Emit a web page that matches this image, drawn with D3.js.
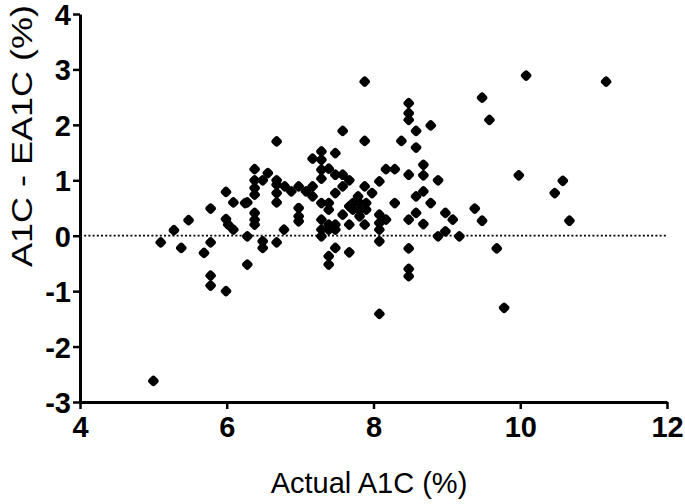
<!DOCTYPE html>
<html><head><meta charset="utf-8">
<script src="https://cdn.jsdelivr.net/npm/d3@7"></script>
<style>body{margin:0;background:#fff}svg{display:block}</style>
</head><body>
<script>
// Actual A1C (%)
const actualA1C = [5.0,5.1,5.28,5.38,5.48,5.69,5.78,5.78,5.78,5.78,5.99,6.09,5.99,6.02,6.09,5.99,6.28,6.28,6.28,6.38,6.38,6.38,6.38,6.38,6.38,6.49,6.49,6.68,6.56,6.68,6.49,6.68,6.68,6.68,6.78,6.68,6.79,6.88,6.98,6.98,6.98,6.98,7.08,7.17,7.17,7.17,7.29,7.29,7.48,7.29,7.39,7.48,7.58,7.67,7.58,7.48,7.29,7.29,7.39,7.39,7.29,7.39,7.48,7.29,7.29,7.39,7.48,7.48,7.39,7.39,7.67,7.58,7.67,7.79,7.88,7.98,7.72,7.81,7.9,7.72,7.81,7.9,7.81,7.67,7.88,7.88,7.58,7.88,8.48,8.48,8.48,8.78,8.58,8.38,8.58,8.08,8.17,8.29,8.29,8.08,8.17,8.08,8.08,8.08,8.48,8.68,8.68,8.88,8.58,8.68,8.78,8.48,8.58,8.68,8.48,8.48,8.48,8.98,9.08,8.98,8.88,9.17,10.08,11.17,9.48,9.58,9.98,10.58,10.47,10.67,9.38,9.48,9.68,9.78,8.08,6.38,6.25];
// A1C - EA1C (%)
const diffA1C = [-2.62,-0.12,0.1,-0.22,0.28,-0.31,-0.12,0.49,-0.72,-0.9,0.79,0.6,0.3,0.2,0.11,-1.0,-0.01,-0.52,0.6,1.2,1.0,0.86,0.74,0.41,0.2,-0.1,-0.22,1.7,1.13,1.0,1.0,0.92,0.77,0.6,0.11,-0.12,0.89,0.8,0.89,0.5,0.35,0.26,0.8,0.89,0.71,1.39,1.52,1.37,1.49,1.19,1.21,1.1,1.1,1.0,0.89,0.77,1.03,0.59,0.59,0.47,0.29,0.2,0.2,0.11,-0.01,0.11,0.11,-0.22,-0.37,-0.52,-0.3,0.38,0.53,0.71,0.89,0.77,0.59,0.59,0.59,0.47,0.47,0.47,0.35,0.2,0.2,2.78,1.89,1.71,2.39,2.21,2.09,1.99,1.89,1.71,1.59,0.98,1.2,1.2,0.59,0.38,0.29,0.23,0.11,-0.1,1.1,1.28,1.09,1.0,0.71,0.8,0.59,0.29,0.41,0.21,-0.23,-0.6,-0.73,0.41,0.29,0.08,-0.01,-0.01,2.89,2.78,2.49,2.09,1.09,0.99,0.77,0.27,0.49,0.27,-0.23,-1.3,-1.41,0.29,0.59];
const xTicks = [4,6,8,10,12];
const yTicks = [-3,-2,-1,0,1,2,3,4];
const xTitle = "Actual A1C (%)";
const yTitle = "A1C - EA1C (%)";

const W = 685, H = 504;
const svg = d3.select("body").append("svg").attr("width", W).attr("height", H);
const x = d3.scaleLinear().domain([4,12]).range([80,667]);
const y = d3.scaleLinear().domain([-3,4]).range([402,14]);
const font = "'Liberation Sans', Arial, sans-serif";

// zero reference line
svg.append("line").attr("x1", x(4)).attr("x2", x(12)).attr("y1", y(0)).attr("y2", y(0))
  .attr("stroke", "#000").attr("stroke-width", 1.8).attr("stroke-dasharray", "2,2.2");

// points
svg.append("g").selectAll("rect").data(actualA1C.map((v,i)=>[v, diffA1C[i]])).join("rect")
  .attr("width", 9).attr("height", 9).attr("rx", 2.8).attr("ry", 2.8)
  .attr("x", -4.5).attr("y", -4.5)
  .attr("transform", d => `translate(${x(d[0])},${y(d[1])}) rotate(45)`)
  .attr("fill", "#000");

// axes
const xAxis = svg.append("g").attr("transform", `translate(0,${y(-3)})`)
  .call(d3.axisBottom(x).tickValues(xTicks).tickFormat(d => String(d)).tickSize(7).tickSizeOuter(0).tickPadding(7));
const yAxis = svg.append("g").attr("transform", `translate(${x(4)},0)`)
  .call(d3.axisLeft(y).tickValues(yTicks).tickFormat(d => String(d)).tickSize(7).tickSizeOuter(0).tickPadding(2));
[xAxis, yAxis].forEach(g => {
  g.select(".domain").attr("stroke-width", 3).attr("stroke", "#000");
  g.selectAll(".tick line").attr("stroke-width", 2.5).attr("stroke", "#000");
  g.selectAll(".tick text").attr("font-family", font).attr("font-weight", "bold")
    .attr("font-size", 29).attr("fill", "#000");
});
xAxis.selectAll(".tick text").attr("dy", "0.71em");
yAxis.selectAll(".tick text").attr("dy", "0.36em");

// titles
svg.append("text").attr("x", 369).attr("y", 493).attr("text-anchor", "middle")
  .attr("font-family", font).attr("font-size", 29).attr("fill", "#000").text(xTitle);
svg.append("text").attr("transform", "translate(32,136) rotate(-90)").attr("text-anchor", "middle")
  .attr("font-family", font).attr("font-size", 30).attr("textLength", 262).attr("lengthAdjust", "spacingAndGlyphs")
  .attr("fill", "#000").text(yTitle);
</script>
</body></html>
